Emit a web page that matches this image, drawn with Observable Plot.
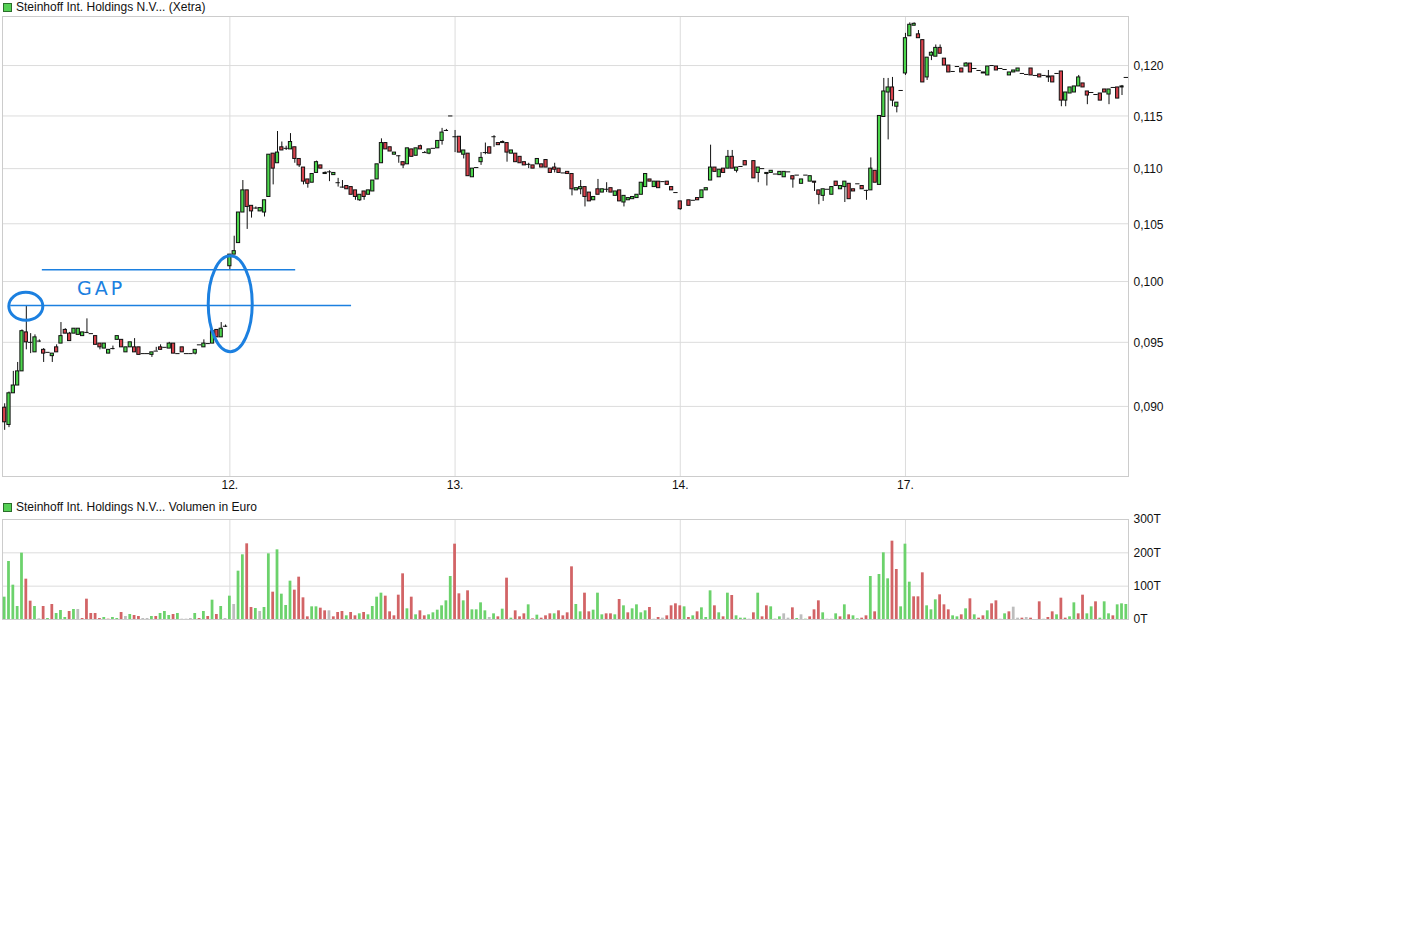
<!DOCTYPE html>
<html><head><meta charset="utf-8">
<script src="https://cdn.jsdelivr.net/npm/d3@7"></script>
<script src="https://cdn.jsdelivr.net/npm/@observablehq/plot@0.6"></script>
<style>
body{margin:0;background:#fff;font-family:"Liberation Sans",Arial,sans-serif;}
#wrap{position:relative;width:1420px;height:951px;overflow:hidden;}
.panel{position:absolute;left:0;}
.title{position:absolute;left:3px;font-size:12px;line-height:14px;color:#111;white-space:nowrap;display:flex;align-items:center;z-index:2;}
.sq{display:inline-block;width:7px;height:7px;background:#55d055;border:1px solid #2b6e2b;margin-right:4px;}
</style></head><body>
<div id="wrap">
  <div id="price" class="panel" style="top:0"></div>
  <div id="vol" class="panel" style="top:500px"></div>
  <div class="title" style="top:0"><span class="sq"></span>Steinhoff Int. Holdings N.V... (Xetra)</div>
  <div class="title" style="top:500px"><span class="sq"></span>Steinhoff Int. Holdings N.V... Volumen in Euro</div>
</div>
<script>
// ---- categories / labels ----
const dayLabels = ["12.", "13.", "14.", "17."];
const dayStartIndex = [52, 104, 156, 208];
const priceTicks = [0.090, 0.095, 0.100, 0.105, 0.110, 0.115, 0.120];
const volTicks = [0, 100, 200, 300];

// ---- 10-minute candles [open, high, low, close]; [v] = unchanged bar; null = no trade ----
const day11 = [
[0.0899,0.0902,0.0882,0.0888],[0.0886,0.0911,0.0884,0.0910],[0.0910,0.0927,0.0910,0.0916],[0.0916,0.0934,0.0916,0.0927],
[0.0927,0.0960,0.0927,0.0959],[0.0958,0.0980,0.0944,0.0950],[0.0950,0.0957,0.0941,0.0950],[0.0942,0.0956,0.0942,0.0954],
[0.0951,0.0952,0.0950,0.0951],[0.0944,0.0945,0.0934,0.0941],[0.0942],[0.0939,0.0941,0.0934,0.0941],
[0.0946,0.0948,0.0942,0.0942],[0.0949,0.0966,0.0949,0.0955],[0.0960,0.0961,0.0957,0.0957],[0.0957,0.0958,0.0951,0.0951],
[0.0957,0.0961,0.0957,0.0961],[0.0956,0.0961,0.0956,0.0961],[0.0955,0.0958,0.0955,0.0958],[0.0958,0.0969,0.0957,0.0958],
[0.0957],[0.0955,0.0955,0.0948,0.0948],[0.0949,0.0949,0.0944,0.0946],[0.0945,0.0949,0.0945,0.0949],
[0.0941,0.0944,0.0941,0.0944],[0.0945,0.0947,0.0944,0.0945],[0.0952,0.0955,0.0952,0.0955],[0.0952,0.0952,0.0946,0.0946],
[0.0942,0.0946,0.0942,0.0946],[0.0946,0.0950,0.0946,0.0950],[0.0946,0.0953,0.0942,0.0942],[0.0946,0.0946,0.0940,0.0940],
[0.0941],[0.0941],[0.0940,0.0942,0.0938,0.0942],[0.0943,0.0946,0.0943,0.0943],
[0.0946,0.0948,0.0944,0.0944],[0.0946],[0.0945,0.0950,0.0945,0.0949],[0.0949,0.0949,0.0941,0.0941],
[0.0941],[0.0946,0.0946,0.0942,0.0942],[0.0941],[0.0941],
[0.0941,0.0944,0.0940,0.0944],[0.0948],[0.0946,0.0952,0.0946,0.0949],[0.0949],
[0.0949,0.0959,0.0949,0.0959],[0.0960,0.0960,0.0954,0.0954],[0.0954,0.0966,0.0954,0.0961],[0.0963,0.0964,0.0962,0.0963]
];
const day12 = [
[0.1013,0.1023,0.1010,0.1023],[0.1023,0.1039,0.1023,0.1026],[0.1033,0.1060,0.1033,0.1060],[0.1060,0.1089,0.1060,0.1080],
[0.1080,0.1080,0.1045,0.1065],[0.1066,0.1066,0.1055,0.1061],[0.1064,0.1065,0.1063,0.1064],[0.1061,0.1064,0.1061,0.1064],
[0.1060,0.1071,0.1056,0.1071],[0.1074,0.1113,0.1074,0.1113],[0.1114,0.1114,0.1085,0.1100],[0.1105,0.1135,0.1105,0.1115],
[0.1120,0.1125,0.1117,0.1117],[0.1119,0.1121,0.1117,0.1119],[0.1118,0.1133,0.1118,0.1125],[0.1120,0.1120,0.1105,0.1109],
[0.1109,0.1109,0.1101,0.1103],[0.1101,0.1101,0.1085,0.1088],[0.1090,0.1090,0.1082,0.1086],[0.1087,0.1095,0.1087,0.1095],
[0.1096,0.1107,0.1096,0.1106],[0.1103,0.1103,0.1100,0.1100],[0.1095,0.1097,0.1095,0.1096],[0.1097,0.1098,0.1088,0.1097],
[0.1094,0.1096,0.1094,0.1096],[0.1087,0.1091,0.1083,0.1087],[0.1083,0.1089,0.1082,0.1083],[0.1084,0.1084,0.1081,0.1081],
[0.1083,0.1083,0.1076,0.1076],[0.1080,0.1080,0.1071,0.1074],[0.1071,0.1076,0.1070,0.1076],[0.1079,0.1079,0.1071,0.1074],
[0.1076,0.1080,0.1076,0.1080],[0.1079,0.1089,0.1079,0.1089],[0.1090,0.1104,0.1090,0.1104],[0.1105,0.1128,0.1105,0.1124],
[0.1124,0.1124,0.1118,0.1118],[0.1120,0.1120,0.1116,0.1116],[0.1113,0.1115,0.1113,0.1115],[0.1112,0.1112,0.1105,0.1112],
[0.1106,0.1106,0.1100,0.1103],[0.1104,0.1119,0.1104,0.1119],[0.1118,0.1118,0.1111,0.1111],[0.1112,0.1119,0.1112,0.1119],
[0.1121,0.1122,0.1118,0.1118],[0.1115,0.1116,0.1115,0.1115],[0.1114,0.1118,0.1113,0.1118],[0.1119],
[0.1119,0.1126,0.1119,0.1126],[0.1126,0.1138,0.1122,0.1134],[0.1136,0.1137,0.1135,0.1136],[0.1150]
];
const day13 = [
[0.1130,0.1136,0.1115,0.1130],[0.1130,0.1130,0.1115,0.1115],[0.1113,0.1117,0.1109,0.1117],[0.1114,0.1114,0.1093,0.1093],
[0.1092,0.1100,0.1092,0.1100],[0.1101],[0.1106,0.1115,0.1103,0.1110],[0.1115,0.1124,0.1113,0.1115],
[0.1120,0.1120,0.1114,0.1114],[0.1130,0.1131,0.1120,0.1130],[0.1124,0.1124,0.1122,0.1122],[0.1124,0.1126,0.1124,0.1125],
[0.1124,0.1124,0.1106,0.1115],[0.1114,0.1117,0.1114,0.1117],[0.1114,0.1114,0.1106,0.1106],[0.1111,0.1111,0.1105,0.1105],
[0.1106,0.1106,0.1103,0.1103],[0.1104,0.1105,0.1100,0.1104],[0.1103,0.1103,0.1100,0.1100],[0.1104,0.1109,0.1104,0.1109],
[0.1104,0.1104,0.1101,0.1101],[0.1108,0.1108,0.1101,0.1101],[0.1100,0.1100,0.1096,0.1096],[0.1101,0.1105,0.1096,0.1099],
[0.1100,0.1100,0.1096,0.1096],[0.1096],[0.1097,0.1097,0.1095,0.1095],[0.1095,0.1095,0.1075,0.1081],
[0.1080,0.1082,0.1080,0.1082],[0.1081,0.1089,0.1076,0.1083],[0.1083,0.1083,0.1065,0.1074],[0.1078,0.1078,0.1070,0.1070],
[0.1071,0.1074,0.1071,0.1074],[0.1081,0.1090,0.1076,0.1076],[0.1078,0.1081,0.1078,0.1081],[0.1081,0.1087,0.1078,0.1081],
[0.1082,0.1082,0.1078,0.1078],[0.1075,0.1079,0.1075,0.1079],[0.1080,0.1080,0.1070,0.1070],[0.1069,0.1075,0.1065,0.1075],
[0.1071,0.1073,0.1071,0.1073],[0.1072,0.1074,0.1072,0.1074],[0.1073,0.1076,0.1073,0.1076],[0.1076,0.1087,0.1076,0.1087],
[0.1083,0.1095,0.1083,0.1095],[0.1090,0.1090,0.1088,0.1088],[0.1083,0.1088,0.1083,0.1088],[0.1088,0.1088,0.1082,0.1082],
[0.1088],[0.1088,0.1088,0.1085,0.1085],[0.1083,0.1083,0.1080,0.1080],[0.1078]
];
const day14 = [
[0.1070,0.1070,0.1062,0.1063],null,[0.1071,0.1071,0.1066,0.1066],[0.1071],
[0.1073,0.1073,0.1071,0.1071],[0.1073,0.1080,0.1073,0.1080],[0.1080,0.1082,0.1080,0.1082],[0.1089,0.1122,0.1089,0.1101],
[0.1101,0.1101,0.1097,0.1097],[0.1092,0.1099,0.1092,0.1099],[0.1100,0.1100,0.1096,0.1096],[0.1100,0.1117,0.1100,0.1111],
[0.1111,0.1117,0.1100,0.1100],[0.1098,0.1101,0.1096,0.1101],[0.1102],[0.1107,0.1107,0.1103,0.1103],
null,[0.1107,0.1107,0.1091,0.1091],[0.1096,0.1101,0.1087,0.1101],[0.1100],
[0.1095,0.1096,0.1084,0.1096],[0.1096,0.1098,0.1096,0.1098],[0.1095],[0.1094,0.1097,0.1094,0.1097],
[0.1092,0.1097,0.1092,0.1097],[0.1097],[0.1093,0.1093,0.1082,0.1090],[0.1094],
[0.1086,0.1090,0.1086,0.1090],[0.1094],[0.1088,0.1093,0.1088,0.1093],[0.1088,0.1088,0.1079,0.1087],
[0.1080,0.1080,0.1067,0.1076],[0.1075,0.1081,0.1070,0.1081],[0.1081],[0.1076,0.1083,0.1076,0.1083],
[0.1088,0.1088,0.1084,0.1084],[0.1081,0.1084,0.1081,0.1084],[0.1083,0.1088,0.1069,0.1088],[0.1086,0.1086,0.1072,0.1072],
[0.1081,0.1081,0.1079,0.1079],[0.1086],[0.1084,0.1084,0.1081,0.1081],[0.1080,0.1080,0.1071,0.1080],
[0.1080,0.1110,0.1080,0.1100],[0.1098,0.1098,0.1087,0.1087],[0.1085,0.1150,0.1085,0.1150],[0.1149,0.1187,0.1149,0.1174],
[0.1173,0.1187,0.1127,0.1178],[0.1178,0.1188,0.1159,0.1165],[0.1159,0.1163,0.1153,0.1163],[0.1175]
];
const day17 = [
[0.1192,0.1233,0.1190,0.1228],[0.1230,0.1244,0.1230,0.1242],[0.1241,0.1244,0.1241,0.1243],[0.1232,0.1236,0.1228,0.1228],
[0.1226,0.1226,0.1183,0.1183],[0.1188,0.1208,0.1185,0.1208],[0.1210,0.1214,0.1205,0.1213],[0.1209,0.1221,0.1209,0.1218],
[0.1218,0.1221,0.1212,0.1212],[0.1207,0.1207,0.1200,0.1200],[0.1200,0.1200,0.1193,0.1193],[0.1194],
[0.1199],[0.1197,0.1197,0.1193,0.1193],[0.1199,0.1203,0.1199,0.1202],[0.1202,0.1202,0.1193,0.1193],
[0.1197],[0.1195],[0.1193,0.1193,0.1192,0.1192],[0.1190,0.1199,0.1190,0.1199],
[0.1200],[0.1199,0.1199,0.1195,0.1195],[0.1197],[0.1196],
[0.1190,0.1193,0.1190,0.1193],[0.1193,0.1195,0.1193,0.1195],[0.1194,0.1197,0.1194,0.1197],[0.1192],
[0.1191],[0.1197,0.1197,0.1190,0.1190],[0.1190],[0.1191,0.1191,0.1188,0.1188],
[0.1190],[0.1189,0.1195,0.1183,0.1188],[0.1189,0.1189,0.1183,0.1183],[0.1192],
[0.1194,0.1194,0.1159,0.1165],[0.1165,0.1173,0.1159,0.1173],[0.1172,0.1178,0.1172,0.1178],[0.1173,0.1179,0.1173,0.1179],
[0.1179,0.1190,0.1179,0.1188],[0.1182,0.1182,0.1178,0.1178],[0.1174,0.1174,0.1161,0.1170],[0.1173],
[0.1171],[0.1172,0.1172,0.1165,0.1165],[0.1176,0.1176,0.1173,0.1173],[0.1171,0.1176,0.1161,0.1176],
[0.1178],[0.1178,0.1178,0.1167,0.1167],[0.1178,0.1180,0.1170,0.1179],[0.1188]
];

// ---- volume in thousand euro (T) and bar colour code: g up, r down, n unchanged ----
const vol11 = [67,174,103,39,199,121,55,39,2,39,3,45,18,27,6,24,30,30,3,61,18,18,3,6,1,6,3,21,9,15,12,9,3,3,9,9,18,24,12,15,18,1,1,3,18,3,24,9,58,15,39,3];
const vol12 = [70,45,145,194,227,36,33,24,36,197,82,209,76,42,115,88,127,65,8,38,38,34,26,26,8,21,24,11,21,11,17,21,14,39,67,79,70,23,11,73,137,32,67,14,26,11,14,20,28,41,56,129];
const vol13 = [226,77,56,86,29,29,50,26,6,17,8,31,124,4,26,8,17,44,2,13,4,11,17,17,26,11,20,158,45,23,79,23,28,79,14,17,17,14,60,41,20,32,44,20,26,36,1,6,4,11,41,47];
const vol14 = [41,38,6,11,23,35,6,86,41,20,8,79,72,11,4,4,1,20,79,8,41,38,1,8,17,4,35,3,14,1,8,29,56,20,1,1,17,8,44,14,11,2,4,11,129,23,135,200,122,235,150,38];
const vol17 = [226,112,68,68,140,41,29,59,74,44,29,11,8,14,32,62,14,4,11,26,47,56,1,17,23,37,4,4,6,4,0,53,1,6,23,14,64,4,8,50,17,73,17,38,53,4,53,17,11,44,47,45];
const dir11 = "gggggrrgnrgrgggrgnrrrrrgrggrngrrnngrgggrgnnngrgrgrgn";
const dir12 = "gnggrrgnggrggggrrrrggrrnrrrgrrgrggggrrrrrgrgrrgggggg";
const dir13 = "rrgrggggngrgrgrrrgrgrrrgrrrrggrrgggrrgrgrggggrnrnrrr";
const dir14 = "rgrgrgggrgrgrgggnrgrrgggnnrgngrrrgnngrgrggrrgrgggrrg";
const dir17 = "ggrrrgggrrrggrgrgrrgrrngrnnrnrnrnrrgrrggrrggrgggrggg";

// ---- annotation (hand-drawn gap marking) ----
const gapLevels = [{y: 0.1010, x1: 8.7, x2: 67.2}, {y: 0.0980, x1: 1.4, x2: 80.1}];
const gapLabel = {x: 16.8, y: 0.0994, text: "GAP"};
const gapCircles = [{x: 5.0, y: 0.0979, rx: 17, ry: 14}, {x: 52.2, y: 0.0981, rx: 22, ry: 48}];

// ---- build tables ----
const rows = [...day11, ...day12, ...day13, ...day14, ...day17];
const vols = [...vol11, ...vol12, ...vol13, ...vol14, ...vol17];
const dirs = (dir11 + dir12 + dir13 + dir14 + dir17).split("");
const candles = [];
rows.forEach((r, i) => {
  if (!r) return;
  const [o, h, l, c] = r.length === 1 ? [r[0], r[0], r[0], r[0]] : r;
  candles.push({i, o, h, l, c});
});
const bodies = candles.filter(d => d.o !== d.c);
const flats = candles.filter(d => d.o === d.c);
const wicks = candles.filter(d => d.h > d.l);
const volData = vols.map((v, i) => ({i, v, d: dirs[i] || "n"}));

const GREEN = "#4cd64c", RED = "#d8424c";
const VCOL = {g: "#6cd26c", r: "#d26466", n: "#bdbdbd"};
const GRID = "#dcdcdc", FRAME = "#cccccc", BLUE = "#1c80e0";
const xDomain = [-0.5, 259.5];
const fmtP = d => d.toFixed(3).replace(".", ",");

const price = Plot.plot({
  width: 1420, height: 495,
  marginTop: 16, marginBottom: 19, marginLeft: 2, marginRight: 292,
  style: {fontFamily: "'Liberation Sans', Arial, sans-serif", fontSize: "12px", color: "#111", background: "transparent"},
  x: {domain: xDomain, axis: null},
  y: {type: "log", domain: [0.08483, 0.12507], axis: null},
  marks: [
    Plot.gridY(priceTicks, {stroke: GRID, strokeOpacity: 1}),
    Plot.gridX(dayStartIndex, {stroke: GRID, strokeOpacity: 1}),
    Plot.frame({stroke: FRAME}),
    Plot.axisY(priceTicks, {anchor: "right", label: null, tickSize: 0, tickPadding: 5, tickFormat: fmtP, fontSize: 12, dy: 1}),
    Plot.axisX(dayStartIndex, {anchor: "bottom", label: null, tickSize: 0, tickPadding: 4, tickFormat: (d, k) => dayLabels[k], fontSize: 12}),
    Plot.ruleX(wicks, {x: "i", y1: "l", y2: "h", stroke: "#111", strokeWidth: 1}),
    Plot.rect(bodies, {x1: d => d.i - 0.37, x2: d => d.i + 0.37, y1: "o", y2: "c", fill: d => d.c > d.o ? GREEN : RED, stroke: "#111", strokeWidth: 1}),
    Plot.ruleY(flats, {y: "c", x1: d => d.i - 0.5, x2: d => d.i + 0.5, stroke: "#111", strokeWidth: 1}),
    Plot.ruleY(gapLevels, {y: "y", x1: "x1", x2: "x2", stroke: BLUE, strokeWidth: 1.4}),
    (index, scales) => {
      const g = d3.create("svg:g");
      for (const e of gapCircles) {
        g.append("ellipse").attr("cx", scales.x(e.x)).attr("cy", scales.y(e.y))
          .attr("rx", e.rx).attr("ry", e.ry).attr("fill", "none")
          .attr("stroke", BLUE).attr("stroke-width", 3);
      }
      g.append("text").attr("x", scales.x(gapLabel.x)).attr("y", scales.y(gapLabel.y))
        .attr("dy", "0.35em").attr("fill", BLUE).attr("text-anchor", "start")
        .attr("font-family", "'DejaVu Sans', sans-serif").attr("font-size", 19)
        .attr("letter-spacing", 3).text(gapLabel.text);
      return g.node();
    }
  ]
});
document.getElementById("price").appendChild(price);

const volume = Plot.plot({
  width: 1420, height: 135,
  marginTop: 19, marginBottom: 16, marginLeft: 2, marginRight: 292,
  style: {fontFamily: "'Liberation Sans', Arial, sans-serif", fontSize: "12px", color: "#111", background: "transparent"},
  x: {domain: xDomain, axis: null, label: null},
  y: {domain: [0, 300], axis: null, label: null},
  marks: [
    Plot.gridY(volTicks, {stroke: GRID, strokeOpacity: 1}),
    Plot.gridX(dayStartIndex, {stroke: GRID, strokeOpacity: 1}),
    Plot.frame({stroke: FRAME}),
    Plot.axisY(volTicks, {anchor: "right", label: null, tickSize: 0, tickPadding: 5, tickFormat: d => d + "T", fontSize: 12}),
    Plot.rectY(volData, {x1: d => d.i - 0.32, x2: d => d.i + 0.32, y1: 0, y2: "v", fill: d => VCOL[d.d]})
  ]
});
document.getElementById("vol").appendChild(volume);
</script>
</body></html>
